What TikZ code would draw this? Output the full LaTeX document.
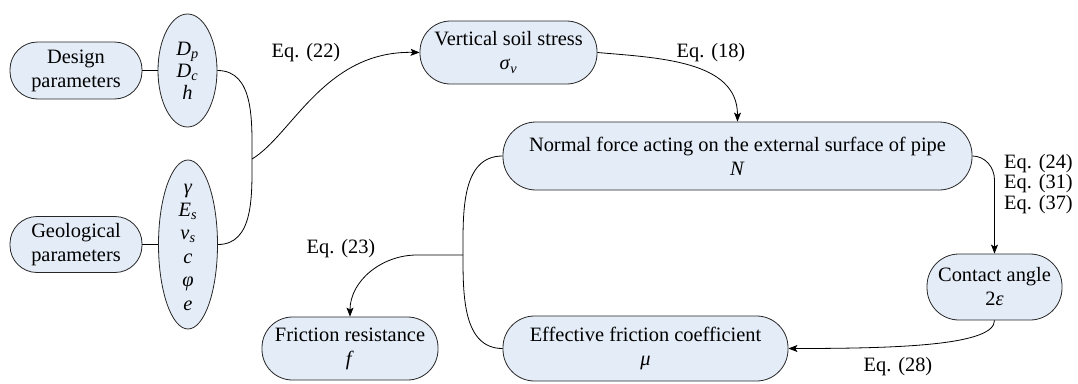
\documentclass[tikz,border=0pt]{standalone}
\usepackage{fontspec}
\setmainfont{Liberation Serif}
\usetikzlibrary{shapes.geometric,arrows.meta}
\definecolor{boxfill}{HTML}{E4ECF7}
\begin{document}
\begin{tikzpicture}[x=1pt,y=-1pt,
  every node/.style={font=\fontsize{20.4}{24}\selectfont},
  pill/.style 2 args={draw=black!85, line width=0.8pt, fill=boxfill, rectangle,
    rounded corners=#2/2-1, minimum width=#1, minimum height=#2, inner sep=0pt, align=center},
  ellip/.style 2 args={draw=black!85, line width=0.8pt, fill=boxfill, ellipse,
    minimum width=#1, minimum height=#2, inner sep=0pt},
  conn/.style={draw=black, line width=0.8pt},
  arr/.style={conn, -{Stealth[length=9pt,width=7pt,inset=2pt]}},
  eq/.style={inner sep=0pt}
]
\useasboundingbox (0,0) rectangle (1078,383);

% nodes
\node[pill={132}{57}] (des) at (76,70.5) {Design\\parameters};
\node[pill={132}{56}] (geo) at (76,244.5) {Geological\\parameters};
\node[ellip={59}{113}] (e1) at (187.5,70.5) {};
\node[align=center, inner sep=0pt, font=\fontsize{20.4}{22}\selectfont] (e1t) at (187.5,71)
  {\textit{D}\textsubscript{\textit{p}}\\\textit{D}\textsubscript{\textit{c}}\\\textit{h}};
\node[ellip={59}{169}] (e2) at (188,244.5) {};
\node[align=center, inner sep=0pt, font=\fontsize{20.4}{23.4}\selectfont] (e2t) at (188,247)
  {\textit{γ}\\\textit{E}\textsubscript{\textit{s}}\\\textit{v}\textsubscript{\textit{s}}\\\textit{c}\\\textit{φ}\\\textit{e}};

\node[pill={177}{63}] (vss) at (508.5,52.5) {Vertical soil stress\\\textit{σ}\textsubscript{\textit{v}}};
\node[pill={469}{68}] (nf) at (737.5,156) {Normal force acting on the external surface of pipe\\\textit{N}};
\node[pill={135}{66}] (ca) at (994.5,287) {Contact angle\\2\textit{ε}};
\node[pill={285}{65}] (ef) at (645.5,348.5) {Effective friction coefficient\\\textit{μ}};
\node[pill={176}{63}] (fr) at (350,348.5) {Friction resistance\\\textit{f}};

% labels
\node[eq] (l22) at (306,53) {Eq. (22)};
\node[eq] (l18) at (711,53) {Eq. (18)};
\node[eq, align=left, anchor=west, font=\fontsize{20.4}{20.5}\selectfont] (l24) at (1004,184)
  {Eq. (24)\\Eq. (31)\\Eq. (37)};
\node[eq] (l23) at (341,249) {Eq. (23)};
\node[eq] (l28) at (898,367) {Eq. (28)};

% helper coordinates
\coordinate (m) at (252,159);
\coordinate (j) at (463,255);
\coordinate (k) at (417,255);
\coordinate (cabend) at (994.5,180);

% connectors
\draw[conn] (des.east) -- (e1.west);
\draw[conn] (geo.east) -- (e2.west);
\draw[conn] (e1.east) to[out=0,in=90] (m) to[out=-90,in=0] (e2.east);
\draw[arr] (m) .. controls +(40,-24) and +(-95,-2) .. (vss.west);
\draw[arr] (vss.east) to[out=-5,in=90] (nf.north);
\draw[arr] (nf.east) to[out=0,in=90] (cabend) -- (ca.north);
\draw[arr] (ca.south) .. controls +(0,25) and +(110,0) .. (ef.east);
\draw[conn] (nf.west) to[out=180,in=90] (j) to[out=-90,in=180] (ef.west);
\draw[arr] (j) -- (k) to[out=180,in=90] (fr.north);
\end{tikzpicture}
\end{document}
